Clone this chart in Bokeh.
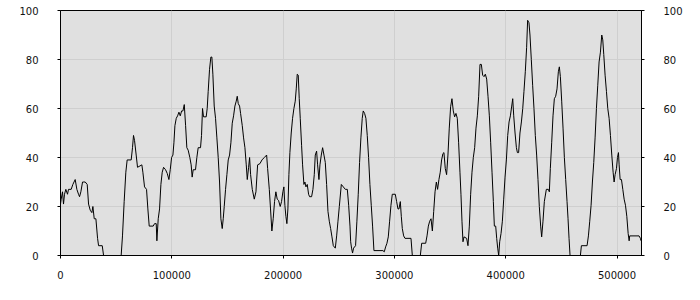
from bokeh.plotting import figure
from bokeh.models import LinearAxis, Range1d, FixedTicker, BasicTickFormatter
from bokeh.embed import file_html
from bokeh.resources import INLINE

# data
x_vals = [0, 600, 1800, 2700, 3600, 4800, 6300, 7200, 9600, 11100, 13200, 14700, 16200, 17100, 18300,
          19800, 21000, 22200, 24000, 25200, 26700, 28200, 29100, 30300, 31800, 33300, 34200, 37500,
          38700, 54500, 55700, 57200, 58700, 59900, 63500, 64700, 65600, 66500, 68000, 69200, 73100,
          74000, 75500, 77300, 78500, 79700, 83300, 84500, 86000, 86600,
          87800, 89000, 90200, 91400, 92600, 94400, 95900, 97400, 98600, 99800, 101000, 101900, 102800,
          104000, 105200, 106400, 107600, 108800, 110000, 111200, 112400, 113500, 114700, 116200,
          117400, 118300, 119200, 121300, 122500, 123700, 125800, 126700, 127600, 128500, 130900,
          131800, 132700, 133900, 135100, 136000, 136900, 138100, 139300, 140500, 141700, 142900,
          144100, 145300, 146200, 147100, 148300, 149500, 150700, 151900, 153100, 154300, 155500,
          156700, 157900, 158800, 159700, 160900, 161800, 163300, 164500, 165700, 166900, 167800,
          169000, 169900, 170800, 172300,
          174100, 175600, 177100, 179200, 181000, 183100, 185200, 186100, 187600, 188700, 189900,
          191100, 192300, 193500, 194700, 195900, 197400, 198600, 199800, 200700, 201600, 202500,
          203400, 204300, 205200, 206100, 207300, 208500, 209700, 210900, 211800, 212700, 213600,
          214500, 215400, 216600, 217500, 218700, 219600, 220500, 221700, 222900, 223800, 225600,
          226800, 228000, 228900, 230100, 231000, 232200, 233100, 234300, 235500, 236700, 237900,
          239100, 240300, 241500, 242700, 243900, 245100, 246900, 248100, 249300, 250500, 252300,
          254100, 255900, 257700, 258900, 260100,
          260700, 261500, 262400, 263300, 265100, 266300, 267500, 268700, 269900, 271100, 272000,
          273200, 274400, 275600, 276800, 278000, 279200, 280400, 281600, 289700, 290900, 292100,
          293300, 294500, 295700, 296900, 298100, 300800, 302000, 303200, 304100, 305300, 306200,
          307100, 308300, 309500, 314900, 316100, 323300, 324500, 328100, 329300, 330500, 331700,
          332900, 334100, 335300, 336500, 337700, 338800, 340000, 341200, 342400, 343600, 344500,
          345700, 346900,
          348100, 349300, 350500, 351700, 352900, 354100, 355300, 356500, 357700, 358900, 359800,
          360700, 361600, 362500, 364900, 366100, 367300, 368500, 369700, 370900, 372100, 373300,
          374500, 375700, 376900, 378100, 379300, 380500, 381700, 382900, 384100, 385300, 386500,
          387700, 388900, 389800, 391000, 391900, 392800, 393700, 394600, 395800, 397000, 398200,
          399400, 400600, 401800, 403000, 404200, 405400, 406300, 407200, 408400, 409600, 410500,
          411600, 412800, 414100, 415300, 416400, 417600, 418800, 419700, 420900, 421800, 423000,
          424200, 425400, 426600, 427800, 429000, 430200, 431400, 432300, 433500, 434700,
          436500, 438300, 439200, 440100, 441300, 442500, 443700, 444900, 446100, 447300, 448200,
          449100, 450300, 451500, 452700, 453900, 455100, 456000, 456900, 457800, 467100, 468000,
          473100, 474300, 475500, 476700, 477900, 479100, 480300, 481500, 482700, 483900, 485100,
          486300, 487200, 488100, 489300, 490500, 491700, 492900, 494100, 495300, 496500, 497400,
          498300, 499500, 500400, 501300, 501900, 502800, 504000, 505200, 506400, 507600, 508800,
          510000, 510900, 511400, 519800, 521000, 521600]

y_vals = [21, 23, 26, 21, 25, 27, 25, 27, 27, 29, 31, 27, 25, 24, 26,
          30, 30, 30, 29, 21, 18.5, 17.5, 20, 15, 15, 7, 4, 4,
          0, 0, 8, 22, 34, 39, 39, 44, 49, 47, 41, 36, 37,
          34, 28, 27, 19, 12, 12, 13, 13, 6,
          15, 19, 29, 34, 36, 35, 33.5, 31, 35, 40, 41, 46, 53,
          56, 57, 58.5, 57, 59, 59, 61.6, 53, 44, 43, 40,
          37, 32, 35, 35, 40, 44, 44, 49, 60, 56.6, 56.6,
          60, 67, 76, 81, 81, 74, 61, 56, 48, 40, 30,
          15, 11, 15, 20, 27, 33, 39, 41, 46, 54, 57,
          61, 63, 65, 62, 61, 58, 53, 48, 44, 37, 31,
          36, 40, 33, 27,
          23, 26, 37, 37.5, 39, 40, 41, 35.5, 27, 19, 10,
          15, 22, 26, 23, 22.5, 20, 22, 26, 28, 20.5, 16,
          13, 19, 33, 42, 50, 56, 60, 63, 68, 74, 73.6,
          64, 56, 45, 37, 29, 30, 28, 29, 25, 24, 24,
          27, 33, 41, 42.6, 37, 31, 37, 41, 44, 41, 38,
          29, 18, 14, 11, 7.6, 4, 3, 8, 14, 20, 29,
          28, 27, 27, 20.5, 12,
          5.6, 3, 1, 3, 4, 14, 25, 38, 48, 56, 59,
          58, 56, 49, 40, 29, 20.5, 12, 2, 2, 1.5, 3.5,
          5, 7.6, 14, 20.5, 25, 25, 22, 19, 19, 22, 16,
          11, 8, 7, 7, 0, 0, 5, 5, 8, 12, 14,
          15, 10, 18, 26, 30, 27, 31, 34, 39, 41.6, 42,
          35.5, 33,
          41, 52, 60.7, 64, 59, 56.6, 58, 56, 46, 34, 25,
          14, 5.6, 7.6, 7, 4, 12, 25, 34, 40, 44, 52,
          57, 65, 78, 78, 73.6, 73, 74, 72, 65, 57, 46,
          34, 22, 12, 12, 7, 3, 0, 5.6, 9, 14, 23,
          32, 39, 49, 54.5, 57, 61, 64, 57, 50, 44, 42,
          42, 50, 54.5, 60, 67, 75, 85, 96, 95, 90, 80,
          69.5, 60, 49, 41, 31, 20, 12, 7.6, 14, 22,
          27, 27, 26, 35.5, 46, 57, 64, 65, 68, 75, 77,
          73, 63, 52, 40, 31, 22, 15, 7, 0, 0, 4,
          4, 8, 14, 20.5, 30, 38, 48, 60, 69.5, 79, 83,
          90, 88, 82, 73.6, 67, 60, 56, 49, 41, 34, 30,
          33, 35.5, 40, 42, 37, 31, 31, 27, 23, 20.5, 16,
          9, 6, 8, 8, 7, 6]

x_ticks = [0, 100000, 200000, 300000, 400000, 500000]
y_ticks = [0, 20, 40, 60, 80, 100]

p = figure(width=700, height=300, output_backend="svg", toolbar_location=None,
           x_range=Range1d(0, 522000), y_range=Range1d(0, 100),
           min_border_left=60, min_border_right=59, min_border_top=10, min_border_bottom=45)
p.background_fill_color = "#e0e0e0"
p.border_fill_color = "white"
p.outline_line_color = "black"
p.outline_line_width = 1

p.line(x_vals, y_vals, color="black", line_width=1)

p.add_layout(LinearAxis(), "right")

font = "DejaVu Sans"
for ax in p.xaxis:
    ax.ticker = FixedTicker(ticks=x_ticks)
    ax.formatter = BasicTickFormatter(use_scientific=False)
    ax.major_label_standoff = 12
for ax in p.yaxis:
    ax.ticker = FixedTicker(ticks=y_ticks)
    ax.major_label_standoff = 19
for ax in p.xaxis + p.yaxis:
    ax.axis_line_color = "black"
    ax.major_tick_line_color = "black"
    ax.major_tick_out = 3
    ax.major_tick_in = 0
    ax.minor_tick_line_color = None
    ax.major_label_text_font = font
    ax.major_label_text_font_size = "10px"
    ax.major_label_text_color = "#111111"

p.xgrid.ticker = FixedTicker(ticks=x_ticks)
p.ygrid.ticker = FixedTicker(ticks=y_ticks)
p.xgrid.grid_line_color = "#cfcfcf"
p.ygrid.grid_line_color = "#cfcfcf"

open("out.html", "w").write(file_html(p, INLINE))
